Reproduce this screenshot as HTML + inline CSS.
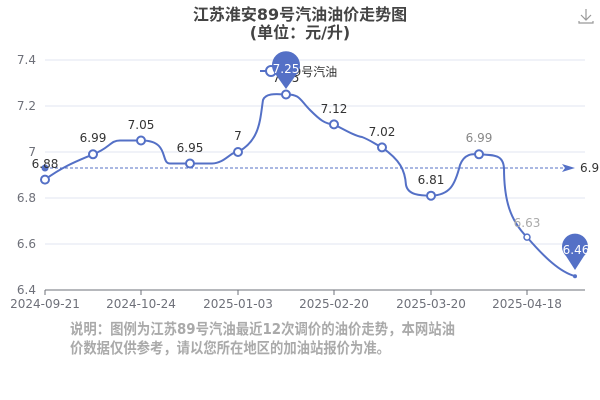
<!DOCTYPE html><html><head><meta charset="utf-8"><style>body{margin:0;background:#fff}svg{display:block;font-family:"DejaVu Sans","Noto Sans CJK SC",sans-serif}</style></head><body>
<svg width="600" height="400" viewBox="0 0 600 400">
<text x="300" y="20" text-anchor="middle" font-size="16" font-weight="bold" fill="#444">江苏淮安89号汽油油价走势图</text>
<text x="300" y="38" text-anchor="middle" font-size="16" font-weight="bold" fill="#444">(单位：元/升)</text>
<g stroke="#999" fill="none" stroke-width="1.2"><path d="M586 9v10M581 15l5 5 5-5M579 21v2h14v-2"/></g>
<g stroke="#e0e6f1" stroke-width="1"><line x1="45" y1="60" x2="585" y2="60"/><line x1="45" y1="106" x2="585" y2="106"/><line x1="45" y1="152" x2="585" y2="152"/><line x1="45" y1="198" x2="585" y2="198"/><line x1="45" y1="244" x2="585" y2="244"/></g>
<g font-size="12" fill="#6e7079" text-anchor="end"><text x="36" y="64">7.4</text><text x="36" y="110">7.2</text><text x="36" y="156">7</text><text x="36" y="202">6.8</text><text x="36" y="248">6.6</text><text x="36" y="294">6.4</text></g>
<line x1="45" y1="290" x2="585" y2="290" stroke="#6e7079"/>
<g stroke="#6e7079"><line x1="45" y1="290" x2="45" y2="295"/><line x1="141" y1="290" x2="141" y2="295"/><line x1="238" y1="290" x2="238" y2="295"/><line x1="334" y1="290" x2="334" y2="295"/><line x1="431" y1="290" x2="431" y2="295"/><line x1="527" y1="290" x2="527" y2="295"/></g>
<g font-size="12" fill="#6e7079" text-anchor="middle"><text x="45" y="308">2024-09-21</text><text x="141" y="308">2024-10-24</text><text x="238" y="308">2025-01-03</text><text x="334" y="308">2025-02-20</text><text x="431" y="308">2025-03-20</text><text x="527" y="308">2025-04-18</text></g>
<line x1="45" y1="168" x2="565" y2="168" stroke="#5470c6" stroke-dasharray="3,2"/>
<path d="M562 164l13 4-13 4 3-4z" fill="#5470c6"/>
<text x="580" y="172" font-size="12" fill="#333">6.9</text>
<circle cx="45" cy="168" r="3.5" fill="#5470c6"/>
<path d="M45 179.6C65 165 80 160 93 154.3C110 148 110 140.5 120 140.5L141 140.5C170 140 160 163.5 170 163.5L212 163.5C225 163 230 152 238 152C260 140 260 120 263 100C266 92 280 94.5 286 94.5C300 94 300 100 310 110C320 120 325 124 334 124.4C345 130 355 136 362 137C370 140 375 144 382 147.4C400 160 405 170 406 185C408 195 420 195.7 431 195.7C450 195 455 185 460 165C465 152 475 154.3 479 154.3C495 155 503 155 504 168C504 200 510 220 527 237.1C545 258 560 272 575 276.2" fill="none" stroke="#5470c6" stroke-width="2"/>
<g fill="#fff" stroke="#5470c6" stroke-width="2"><circle cx="45" cy="179.6" r="4"/><circle cx="93" cy="154.3" r="4"/><circle cx="141" cy="140.5" r="4"/><circle cx="190" cy="163.5" r="4"/><circle cx="238" cy="152" r="4"/><circle cx="286" cy="94.5" r="4"/><circle cx="334" cy="124.4" r="4"/><circle cx="382" cy="147.4" r="4"/><circle cx="431" cy="195.7" r="4"/><circle cx="479" cy="154.3" r="4"/></g>
<circle cx="527" cy="237.1" r="3" fill="#fff" stroke="#5470c6" stroke-width="1.5"/>
<circle cx="575" cy="276.2" r="2" fill="#5470c6"/>
<g font-size="12" fill="#333" text-anchor="middle"><text x="45" y="168">6.88</text><text x="93" y="142">6.99</text><text x="141" y="129">7.05</text><text x="190" y="152">6.95</text><text x="238" y="140">7</text><text x="286" y="82">7.25</text><text x="334" y="113">7.12</text><text x="382" y="136">7.02</text><text x="431" y="184">6.81</text></g>
<text x="479" y="142" font-size="12" fill="#888" text-anchor="middle">6.99</text>
<text x="527" y="227" font-size="12" fill="#aaa" text-anchor="middle">6.63</text>
<line x1="260" y1="71" x2="282" y2="71" stroke="#5470c6" stroke-width="2"/>
<circle cx="271" cy="71" r="5" fill="#fff" stroke="#5470c6" stroke-width="2"/>
<text x="286" y="76" font-size="12" fill="#333">89号汽油</text>
<path d="M286 89L276 75A14 14 0 1 1 296 75Z" fill="#5470c6"/>
<text x="286" y="73" font-size="12" fill="#fff" text-anchor="middle">7.25</text>
<path d="M575 270L566 256A13 13 0 1 1 584 256Z" fill="#5470c6"/>
<text x="576" y="254" font-size="12" fill="#fff" text-anchor="middle">6.46</text>
<g font-size="15" fill="#aaa" font-weight="bold"><text x="70" y="334" textLength="385" lengthAdjust="spacingAndGlyphs">说明：图例为江苏89号汽油最近12次调价的油价走势，本网站油</text><text x="70" y="353" textLength="320" lengthAdjust="spacingAndGlyphs">价数据仅供参考，请以您所在地区的加油站报价为准。</text></g>
</svg></body></html>
